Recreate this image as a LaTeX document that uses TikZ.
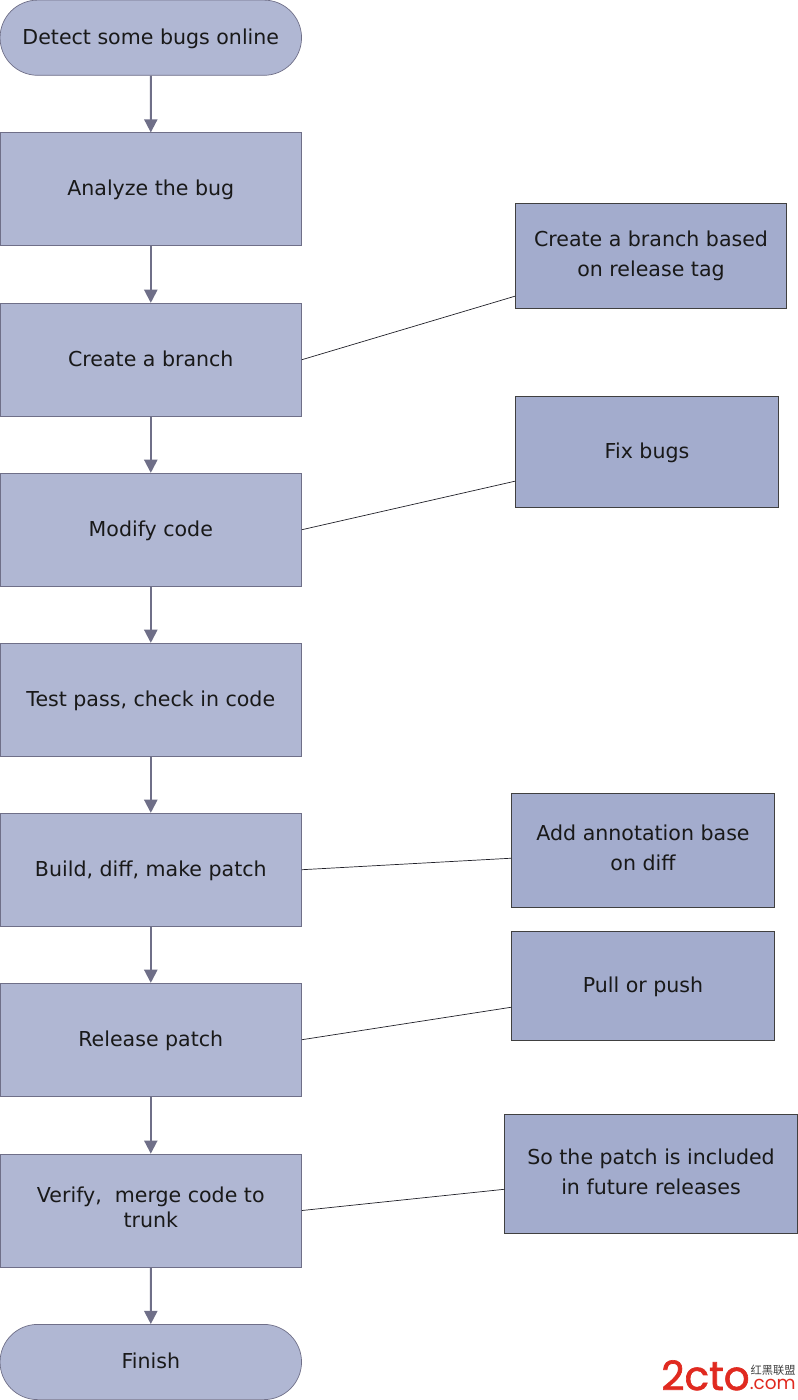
\documentclass[tikz,border=0pt]{standalone}
\usepackage{fontspec}
\setmainfont{DejaVu Sans}
\newfontfamily\cjk{Noto Sans CJK SC}
\newfontfamily\logofont{Poppins}
\newfontfamily\logoheavy[FakeBold=1.6]{Poppins}
\usetikzlibrary{shapes.misc,arrows.meta}
\definecolor{stepfill}{HTML}{B0B7D3}
\definecolor{notefill}{HTML}{A3ACCD}
\definecolor{edgecol}{HTML}{6F6F88}
\definecolor{logored}{HTML}{E02A20}
\newcommand{\stepstrut}{\rule[-3.8pt]{0pt}{15.1pt}}
\newcommand{\notestrut}{\rule[-2.6pt]{0pt}{13.3pt}}
\tikzset{
  base/.style={draw=edgecol,line width=0.4pt,align=center,inner sep=0pt,text=black!90},
  stepbox/.style={base,fill=stepfill,minimum width=171.6pt,minimum height=64.3pt,
    font=\fontsize{11.7}{14.2}\selectfont,
    execute at begin node=\stepstrut,execute at end node=\stepstrut},
  endbox/.style={stepbox,rounded rectangle,minimum height=42.8pt},
  notebox/.style={base,fill=notefill,draw=black!75,font=\fontsize{11.7}{17}\selectfont,
    execute at begin node=\notestrut,execute at end node=\notestrut},
  twoline/.style={execute at begin node=\vspace*{2.3pt}\notestrut},
  flow/.style={draw=edgecol,line width=1.1pt,-{Triangle[length=7.5pt,width=7.5pt]}},
  link/.style={draw=black!70!edgecol,line width=0.4pt},
  logo/.style={inner sep=0pt,anchor=base east}
}
\begin{document}
\begin{tikzpicture}[x=0.02cm,y=-0.02cm]
\useasboundingbox (0,0) rectangle (798,1400);
% main column
\node[endbox] (detect) at (150.8,37.7) {Detect some bugs online};
\node[stepbox] (analyze) at (150.8,189.3) {Analyze the bug};
\node[stepbox] (branch) at (150.8,359.7) {Create a branch};
\node[stepbox] (modify) at (150.8,529.7) {Modify code};
\node[stepbox] (checkin) at (150.8,699.7) {Test pass, check in code};
\node[stepbox] (build) at (150.8,869.7) {Build, diff, make patch};
\node[stepbox] (release) at (150.8,1039.7) {Release patch};
\node[stepbox,twoline] (verify) at (150.8,1210.5) {Verify,\ \ merge code to\\trunk};
\node[endbox] (finish) at (150.8,1362) {Finish};
% notes on the right
\node[notebox,twoline,minimum width=154.5pt,minimum height=59.9pt] (tagnote) at (651,255.8) {Create a branch based\\on release tag};
\node[notebox,minimum width=149.6pt,minimum height=63.4pt] (fixnote) at (647,451.8) {Fix bugs};
\node[notebox,twoline,minimum width=149.6pt,minimum height=64.9pt] (diffnote) at (643,850.3) {Add annotation base\\on diff};
\node[notebox,minimum width=149.6pt,minimum height=62.4pt] (pullnote) at (643,985.8) {Pull or push};
\node[notebox,twoline,minimum width=166.4pt,minimum height=67.9pt] (trunknote) at (651,1173.8) {So the patch is included\\in future releases};
% arrows
\foreach \a/\b in {detect/analyze,analyze/branch,branch/modify,modify/checkin,checkin/build,build/release,release/verify,verify/finish}
  \draw[flow] (\a) -- (\b);
% note links
\draw[link] (branch.east) -- ([yshift=-23pt]tagnote.west);
\draw[link] (modify.east) -- ([yshift=-16.7pt]fixnote.west);
\draw[link] (build.east) -- ([yshift=-4.5pt]diffnote.west);
\draw[link] (release.east) -- ([yshift=-12.2pt]pullnote.west);
\draw[link] (verify.east) -- ([yshift=-8.8pt]trunknote.west);
% logo
\node[logo,text=logored,font=\logoheavy\fontsize{23}{23}\selectfont] (logotext) at (750,1390) {2cto};
\node[logo,text=logored,font=\logofont\fontsize{10.5}{11}\selectfont] (logocom) at (796,1389) {.com};
\node[logo,text=black!75,font=\cjk\fontsize{6.4}{7}\selectfont] (logocn) at (796,1374) {红黑联盟};
\end{tikzpicture}
\end{document}
